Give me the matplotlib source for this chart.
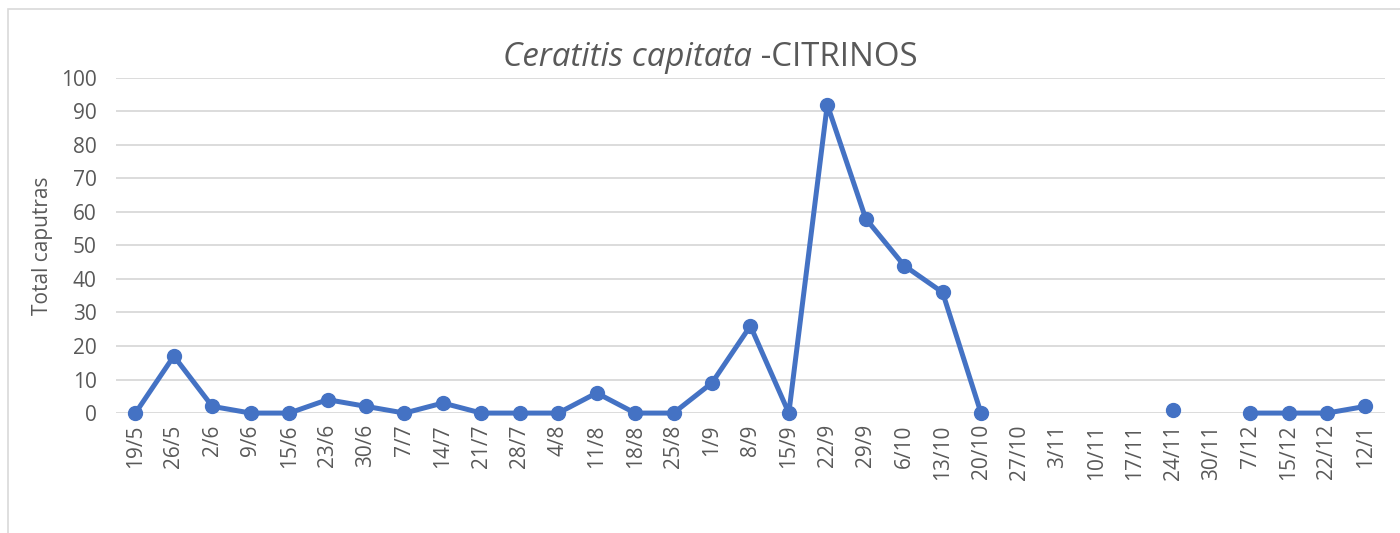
import numpy as np
import matplotlib.pyplot as plt
from matplotlib.patches import Rectangle

fechas = ['19/5', '26/5', '2/6', '9/6', '15/6', '23/6', '30/6', '7/7', '14/7', '21/7',
          '28/7', '4/8', '11/8', '18/8', '25/8', '1/9', '8/9', '15/9', '22/9', '29/9',
          '6/10', '13/10', '20/10', '27/10', '3/11', '10/11', '17/11', '24/11', '30/11',
          '7/12', '15/12', '22/12', '12/1']
capturas = [0, 17, 2, 0, 0, 4, 2, 0, 3, 0,
            0, 0, 6, 0, 0, 9, 26, 0, 92, 58,
            44, 36, 0, np.nan, np.nan, np.nan, np.nan, 1, np.nan,
            0, 0, 0, 2]

plt.rcParams['font.family'] = ['Open Sans', 'DejaVu Sans']
gris = '#595959'

fig = plt.figure(figsize=(14, 5.33), dpi=100)
ax = fig.add_axes([0.083, 0.225, 0.906, 0.629])

# borde del área del gráfico
fig.patches.append(Rectangle((8 / 1400, -0.1), 1.2, 1 - 9 / 533 + 0.1,
                             transform=fig.transFigure, fill=False,
                             edgecolor='#D9D9D9', linewidth=1.2))

x = np.arange(len(fechas))
ax.plot(x, capturas, color='#4472C4', linewidth=3.6, marker='o', markersize=10,
        zorder=3, clip_on=False)

ax.set_xlim(-0.5, len(fechas) - 0.5)
ax.set_ylim(0, 100)
ax.set_yticks(range(0, 101, 10))
ax.set_xticks(x)
ax.set_xticklabels(fechas, rotation=90)
ax.tick_params(length=0, colors=gris, labelsize=15)
ax.tick_params(axis='x', pad=8)
ax.tick_params(axis='y', pad=14)
ax.grid(axis='y', color='#D9D9D9', linewidth=1.3)
ax.set_axisbelow(True)
for s in ax.spines.values():
    s.set_visible(False)

ax.set_ylabel('Total caputras', color=gris, fontsize=15, labelpad=6)
fig.text(0.537, 0.893, 'Ceratitis capitata', style='italic', ha='right', va='center',
         color=gris, fontsize=23.8)
fig.text(0.537, 0.893, ' -CITRINOS', ha='left', va='center', color=gris, fontsize=23.8)

fig.savefig('out.png', dpi=100)
